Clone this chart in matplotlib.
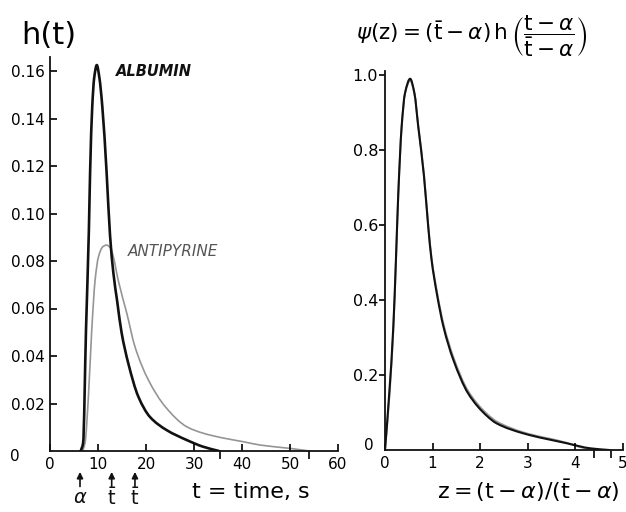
import matplotlib
matplotlib.use("Agg")
import matplotlib.pyplot as plt
from matplotlib.path import Path
from matplotlib.patches import PathPatch
import numpy as np

plt.rcParams['font.family'] = ['DejaVu Sans']
plt.rcParams['mathtext.fontset'] = 'dejavusans'

# ---- data ----
alb_t = [6.4, 6.9, 7.5, 8.1, 8.35, 8.8, 9.2, 9.75, 10.3, 10.9, 11.8, 12.5, 13.2,
         14.0, 14.9, 16.3, 18.4, 20.8, 24.3, 28.5, 31.9, 35.2]
alb_h = [0, 0.0034, 0.051, 0.093, 0.117, 0.145, 0.157, 0.1625, 0.157, 0.145, 0.117,
         0.091, 0.075, 0.063, 0.050, 0.037, 0.0229, 0.0144, 0.0088, 0.0046, 0.0018, 0]

ant_t = [6.8, 7.3, 8.0, 8.7, 9.4, 10.1, 11.0, 11.8, 12.6, 13.2, 14.2, 16.0, 17.7,
         20.5, 24.0, 28.5, 31.9, 36.0, 40.3, 43.8, 50.0, 54.0]
ant_h = [0, 0.0034, 0.0229, 0.051, 0.072, 0.0818, 0.0860, 0.0867, 0.0855, 0.0818,
         0.072, 0.058, 0.0439, 0.0299, 0.0187, 0.0102, 0.0075, 0.0055, 0.0039,
         0.0025, 0.0011, 0]

psi_alb_z = [0, 0.09, 0.175, 0.23, 0.28, 0.35, 0.42, 0.53, 0.62, 0.70, 0.82, 0.91,
             0.98, 1.09, 1.23, 1.44, 1.75, 2.14, 2.35, 2.91, 3.83, 4.32, 4.72]
psi_alb = [0, 0.152, 0.329, 0.507, 0.685, 0.862, 0.951, 0.99, 0.951, 0.862, 0.731,
           0.595, 0.507, 0.418, 0.329, 0.24, 0.151, 0.0915, 0.071, 0.0445, 0.0179,
           0.0045, 0]

psi_ant_z = [0, 0.09, 0.175, 0.23, 0.28, 0.35, 0.42, 0.53, 0.62, 0.70, 0.82, 0.91,
             0.98, 1.09, 1.23, 1.44, 1.75, 2.14, 2.35, 2.91, 3.83, 4.1, 4.42]
psi_ant = [0, 0.14, 0.32, 0.50, 0.68, 0.86, 0.95, 0.985, 0.95, 0.865, 0.735, 0.60,
           0.512, 0.424, 0.336, 0.247, 0.157, 0.097, 0.076, 0.047, 0.019, 0.008, 0]

left_xticks = [0, 10, 20, 30, 40, 50, 60]
left_yticks = [0.02, 0.04, 0.06, 0.08, 0.10, 0.12, 0.14, 0.16]
left_ylabels = ['0.02', '0.04', '0.06', '0.08', '0.10', '0.12', '0.14', '0.16']
left_end_ticks = [35.5, 54.0]

right_xticks = [0, 1, 2, 3, 4, 5]
right_xlabels = ['0', '1', '2', '3', '4', '5']
right_yticks = [0.2, 0.4, 0.6, 0.8, 1.0]
right_ylabels = ['0.2', '0.4', '0.6', '0.8', '1.0']
right_end_ticks = [4.4, 4.75]

marker_t = [6.25, 12.85, 17.7]
marker_lbl = [r'$\alpha$', r'$\bar{\mathrm{t}}$', r'$\bar{\mathrm{t}}$']

BLACK = '#111111'
GRAY = '#959595'


def smooth_path(xs, ys):
    """Monotone cubic (Fritsch-Carlson) Bezier path through the given points."""
    x = np.asarray(xs, float)
    y = np.asarray(ys, float)
    h = np.diff(x)
    d = np.diff(y) / h
    n = len(x)
    m = np.zeros(n)
    m[0], m[-1] = d[0], d[-1]
    for i in range(1, n - 1):
        if d[i - 1] * d[i] <= 0:
            m[i] = 0.0
        else:
            w1 = 2 * h[i] + h[i - 1]
            w2 = h[i] + 2 * h[i - 1]
            m[i] = (w1 + w2) / (w1 / d[i - 1] + w2 / d[i])
    verts = [(x[0], y[0])]
    codes = [Path.MOVETO]
    for i in range(n - 1):
        dx = h[i] / 3.0
        verts += [(x[i] + dx, y[i] + m[i] * dx),
                  (x[i + 1] - dx, y[i + 1] - m[i + 1] * dx),
                  (x[i + 1], y[i + 1])]
        codes += [Path.CURVE4] * 3
    return Path(verts, codes)


def draw_curve(ax, xs, ys, color, lw):
    ax.add_patch(PathPatch(smooth_path(xs, ys), facecolor='none',
                           edgecolor=color, lw=lw, capstyle='round',
                           joinstyle='round'))


W, H = 626, 512
fig = plt.figure(figsize=(W / 100, H / 100), dpi=100)

# ---------------- left panel ----------------
ax1 = fig.add_axes([50 / W, 61 / H, 288 / W, 394.25 / H])
draw_curve(ax1, ant_t, ant_h, GRAY, 1.2)
draw_curve(ax1, alb_t, alb_h, BLACK, 1.9)
ax1.set_xlim(0, 60)
ax1.set_ylim(0, 0.166)
for s in ['top', 'right']:
    ax1.spines[s].set_visible(False)
for s in ['left', 'bottom']:
    ax1.spines[s].set_linewidth(1.3)
    ax1.spines[s].set_color(BLACK)
ax1.set_xticks(left_xticks)
ax1.set_xticklabels([str(v) for v in left_xticks])
ax1.set_yticks(left_yticks)
ax1.set_yticklabels(left_ylabels)
ax1.set_xticks(left_end_ticks, minor=True)
ax1.tick_params(axis='x', which='major', direction='in', length=5, width=1.2,
                pad=4, labelsize=11)
ax1.tick_params(axis='x', which='minor', direction='out', length=6, width=1.2)
ax1.tick_params(axis='y', which='major', direction='in', length=5, width=1.2,
                pad=4, labelsize=11)
ax1.annotate('0', xy=(0, 0), xycoords=('axes fraction', 'data'),
             xytext=(-25, -4), textcoords='offset points', ha='center',
             va='center', fontsize=11)
ax1.text(13.75, 0.1598, 'ALBUMIN', fontsize=10.5, fontweight='bold',
         fontstyle='italic', color=BLACK, va='center', ha='left')
ax1.text(16.2, 0.0842, 'ANTIPYRINE', fontsize=11, fontstyle='italic',
         color='#555555', va='center', ha='left')
for t, lbl in zip(marker_t, marker_lbl):
    ax1.annotate('', xy=(t, -0.053), xycoords=('data', 'axes fraction'),
                 xytext=(t, -0.09), textcoords=('data', 'axes fraction'),
                 arrowprops=dict(arrowstyle='-|>', color=BLACK, lw=1.2,
                                 mutation_scale=9, shrinkA=0, shrinkB=0),
                 annotation_clip=False)
    ax1.text(t, -0.119, lbl, transform=ax1.get_xaxis_transform(),
             ha='center', va='center', fontsize=14, color=BLACK)

# ---------------- right panel ----------------
ax2 = fig.add_axes([385 / W, 62 / H, 237.5 / W, 378.75 / H])
draw_curve(ax2, psi_ant_z, psi_ant, GRAY, 1.4)
draw_curve(ax2, psi_alb_z, psi_alb, BLACK, 1.5)
ax2.set_xlim(0, 5)
ax2.set_ylim(0, 1.01)
for s in ['top', 'right']:
    ax2.spines[s].set_visible(False)
for s in ['left', 'bottom']:
    ax2.spines[s].set_linewidth(1.3)
    ax2.spines[s].set_color(BLACK)
ax2.set_xticks(right_xticks)
ax2.set_xticklabels(right_xlabels)
ax2.set_yticks(right_yticks)
ax2.set_yticklabels(right_ylabels)
ax2.set_xticks(right_end_ticks, minor=True)
ax2.tick_params(axis='x', which='major', direction='in', length=5, width=1.2,
                pad=4, labelsize=11)
ax2.tick_params(axis='x', which='minor', direction='out', length=6, width=1.2)
ax2.tick_params(axis='y', which='major', direction='out', length=4, width=1.2,
                pad=1, labelsize=11.5)
ax2.annotate('0', xy=(0, 0), xycoords=('axes fraction', 'data'),
             xytext=(-12, 3), textcoords='offset points', ha='center',
             va='center', fontsize=11)

# ---------------- titles & axis labels ----------------
fig.text(21 / W, 1 - 35 / H, 'h(t)', fontsize=22, ha='left', va='center')
fig.text(472 / W, 1 - 36 / H,
         r'$\psi(\mathrm{z}) = (\bar{\mathrm{t}} - \alpha)\,\mathrm{h}\,'
         r'\left(\dfrac{\mathrm{t}-\alpha}{\bar{\mathrm{t}}-\alpha}\right)$',
         fontsize=15.5, ha='center', va='center')
fig.text(251 / W, 1 - 492 / H, 't = time, s', fontsize=16, ha='center',
         va='center')
fig.text(528 / W, 1 - 491 / H,
         r'$\mathrm{z} = (\mathrm{t}-\alpha)/(\bar{\mathrm{t}}-\alpha)$',
         fontsize=16, ha='center', va='center')

fig.savefig('out.png', dpi=100, facecolor='white')
